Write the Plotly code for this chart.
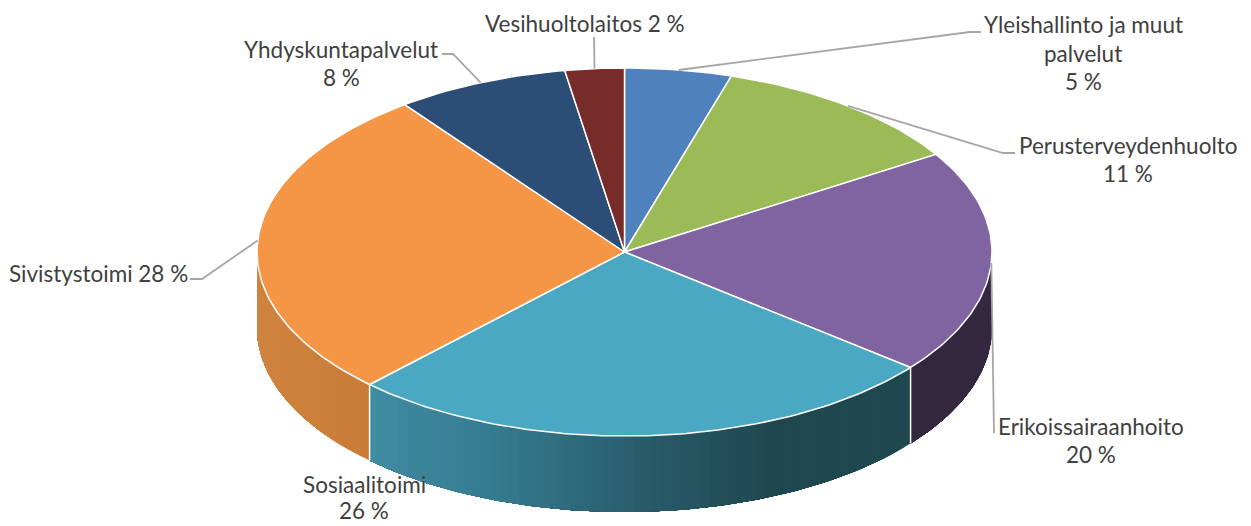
import numpy as np
import plotly.graph_objects as go

# --- data ---
categories = ["Yleishallinto ja muut palvelut", "Perusterveydenhuolto", "Erikoissairaanhoito",
              "Sosiaalitoimi", "Sivistystoimi", "Yhdyskuntapalvelut", "Vesihuoltolaitos"]
values = [4.7, 11.4, 19.7, 26.4, 27.6, 7.6, 2.6]
label_lines = [["Yleishallinto ja muut", "palvelut", "5 %"],
               ["Perusterveydenhuolto", "11 %"],
               ["Erikoissairaanhoito", "20 %"],
               ["Sosiaalitoimi", "26 %"],
               ["Sivistystoimi 28 %"],
               ["Yhdyskuntapalvelut", "8 %"],
               ["Vesihuoltolaitos 2 %"]]

# --- style / layout ---
top_colors = ["#4F81BD", "#9BBB59", "#8064A2", "#4AA8C2", "#F49646", "#2C4D75", "#772C2A"]
CX, CY, RX, RY, DEPTH = 624.5, 252, 367.5, 184, 76
FONT = "Lato"
TEXT = "#404040"
LEADER = "#A6A6A6"
label_pos = [(1083, 24.5), (1128, 145), (1091, 426), (364, 484), (98, 273), (341, 49.5), (585, 23)]
line_h = [28.5, 28.5, 28.5, 26.5, 28.5, 27.5, 28.5]
leader_bends = {0: [(970, 32), (981, 32)], 1: [(1003, 153), (1015, 153)], 2: [(994, 433)],
                4: [(202, 279), (190, 279)], 5: [(453, 54), (442, 54)], 6: [(594, 37)]}


def hex2rgb(h):
    return np.array([int(h[i:i + 2], 16) for i in (1, 3, 5)], float)


def ramp(x, stops):
    xs = [s[0] for s in stops]
    cols = np.array([hex2rgb(s[1]) for s in stops])
    c = [np.interp(x, xs, cols[:, i]) for i in range(3)]
    return "rgb(%d,%d,%d)" % tuple(int(round(v)) for v in c)


wall_stops = {
    2: [(0, "#332840"), (1251, "#332840")],
    3: [(370, "#3F8CA3"), (500, "#357A8E"), (640, "#295C6A"), (770, "#1F4750"), (909, "#1F4750")],
    4: [(257, "#CF833F"), (370, "#C87C38")],
}


def px(t_deg):
    t = np.radians(t_deg)
    return CX + RX * np.sin(t), CY - RY * np.cos(t)


fracs = np.array(values) / sum(values) * 360
edges = np.concatenate([[0], np.cumsum(fracs)])
fig = go.Figure()

# side walls (only front half visible); strips overlap to the end of the slice to avoid seams
for i in range(len(values)):
    a, b = max(edges[i], 90), min(edges[i + 1], 270)
    if a >= b:
        continue
    ts = np.linspace(a, b, max(2, int((b - a) / 1.5) + 1))
    for t0, t1 in zip(ts[:-1], ts[1:]):
        seg = np.linspace(t0, b, max(3, int(b - t0) + 2))
        x, y = px(seg)
        xs = list(x) + list(x[::-1]) + [x[0]]
        ys = list(y) + list((y + DEPTH)[::-1]) + [y[0]]
        xm = px((t0 + t1) / 2)[0]
        col = ramp(xm, wall_stops[i])
        fig.add_trace(go.Scatter(x=xs, y=ys, mode="lines", fill="toself", fillcolor=col,
                                 line=dict(width=0), hoverinfo="skip"))

# white separators on the wall
for e in edges[1:-1]:
    if 90 < e < 270:
        x, y = px(e)
        fig.add_trace(go.Scatter(x=[x, x], y=[y, y + DEPTH], mode="lines",
                                 line=dict(color="white", width=1.5), hoverinfo="skip"))

# top slices
for i in range(len(values)):
    seg = np.linspace(edges[i], edges[i + 1], max(3, int(fracs[i])))
    x, y = px(seg)
    fig.add_trace(go.Scatter(x=[CX] + list(x) + [CX], y=[CY] + list(y) + [CY], mode="lines",
                             fill="toself", fillcolor=top_colors[i],
                             line=dict(color="white", width=1.5), name=categories[i],
                             hoverinfo="name"))

# leader lines, anchored at slice mid-angles
for i, bends in leader_bends.items():
    ax, ay = px((edges[i] + edges[i + 1]) / 2)
    fig.add_trace(go.Scatter(x=[ax] + [p[0] for p in bends], y=[ay] + [p[1] for p in bends],
                             mode="lines", line=dict(color=LEADER, width=1.8), hoverinfo="skip"))

# labels
annotations = []
for lines, (lx, ly), lh in zip(label_lines, label_pos, line_h):
    for k, s in enumerate(lines):
        annotations.append(dict(x=lx, y=ly + k * lh, text=s, showarrow=False, xref="x", yref="y",
                                xanchor="center", yanchor="middle",
                                font=dict(family=FONT, size=22.5, color=TEXT)))

fig.update_layout(width=1251, height=526, margin=dict(l=0, r=0, t=0, b=0), showlegend=False,
                  paper_bgcolor="white", plot_bgcolor="white", annotations=annotations,
                  xaxis=dict(range=[0, 1251], visible=False, fixedrange=True),
                  yaxis=dict(range=[526, 0], visible=False, fixedrange=True))
fig.write_html("out.html", config={"displayModeBar": False},
               post_script="document.body.style.margin='0';document.body.style.overflow='hidden';")
